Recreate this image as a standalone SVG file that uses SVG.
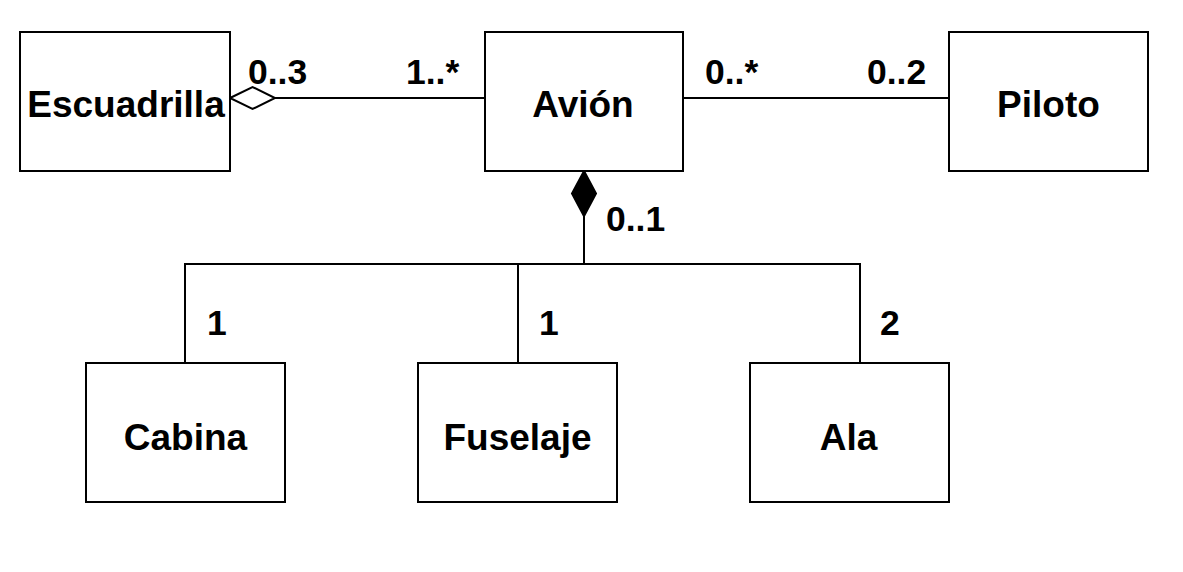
<svg xmlns="http://www.w3.org/2000/svg" width="1183" height="572" viewBox="0 0 1183 572">
<style>
.box{fill:#fff;stroke:#000;stroke-width:2}
.name{font-family:"Liberation Sans",Arial,sans-serif;font-weight:bold;font-size:37px;fill:#000;text-anchor:middle}
.lbl{font-family:"Liberation Sans",Arial,sans-serif;font-weight:bold;font-size:35.5px;fill:#000}
.ln{fill:none;stroke:#000;stroke-width:2}
</style>
<rect width="1183" height="572" fill="#fff"/>
<g id="connectors">
<line class="ln" x1="275" y1="98" x2="485" y2="98"/>
<polygon points="230,98 252.5,87 275,98 252.5,109" fill="#fff" stroke="#000" stroke-width="2"/>
<line class="ln" x1="683" y1="98" x2="949" y2="98"/>
<polygon points="584,171 596,193.5 584,216 572,193.5" fill="#000" stroke="#000" stroke-width="2"/>
<polyline class="ln" points="584,216 584,264"/>
<polyline class="ln" points="185,363 185,264 860,264 860,363"/>
<line class="ln" x1="518" y1="264" x2="518" y2="363"/>
<text class="lbl" x="248" y="84">0..3</text>
<text class="lbl" x="406" y="84">1..*</text>
<text class="lbl" x="705" y="84">0..*</text>
<text class="lbl" x="867" y="84">0..2</text>
<text class="lbl" x="606" y="231">0..1</text>
<text class="lbl" x="207" y="335">1</text>
<text class="lbl" x="539" y="335">1</text>
<text class="lbl" x="880" y="335">2</text>
</g>
<g id="escuadrilla"><rect class="box" x="20" y="32" width="210" height="139"/><text class="name" x="126" y="117">Escuadrilla</text></g>
<g id="avion"><rect class="box" x="485" y="32" width="198" height="139"/><text class="name" x="583" y="117">Avión</text></g>
<g id="piloto"><rect class="box" x="949" y="32" width="199" height="139"/><text class="name" x="1048.5" y="117">Piloto</text></g>
<g id="cabina"><rect class="box" x="86" y="363" width="199" height="139"/><text class="name" x="185.5" y="450">Cabina</text></g>
<g id="fuselaje"><rect class="box" x="418" y="363" width="199" height="139"/><text class="name" x="517.5" y="450">Fuselaje</text></g>
<g id="ala"><rect class="box" x="750" y="363" width="199" height="139"/><text class="name" x="848.5" y="450">Ala</text></g>
</svg>
